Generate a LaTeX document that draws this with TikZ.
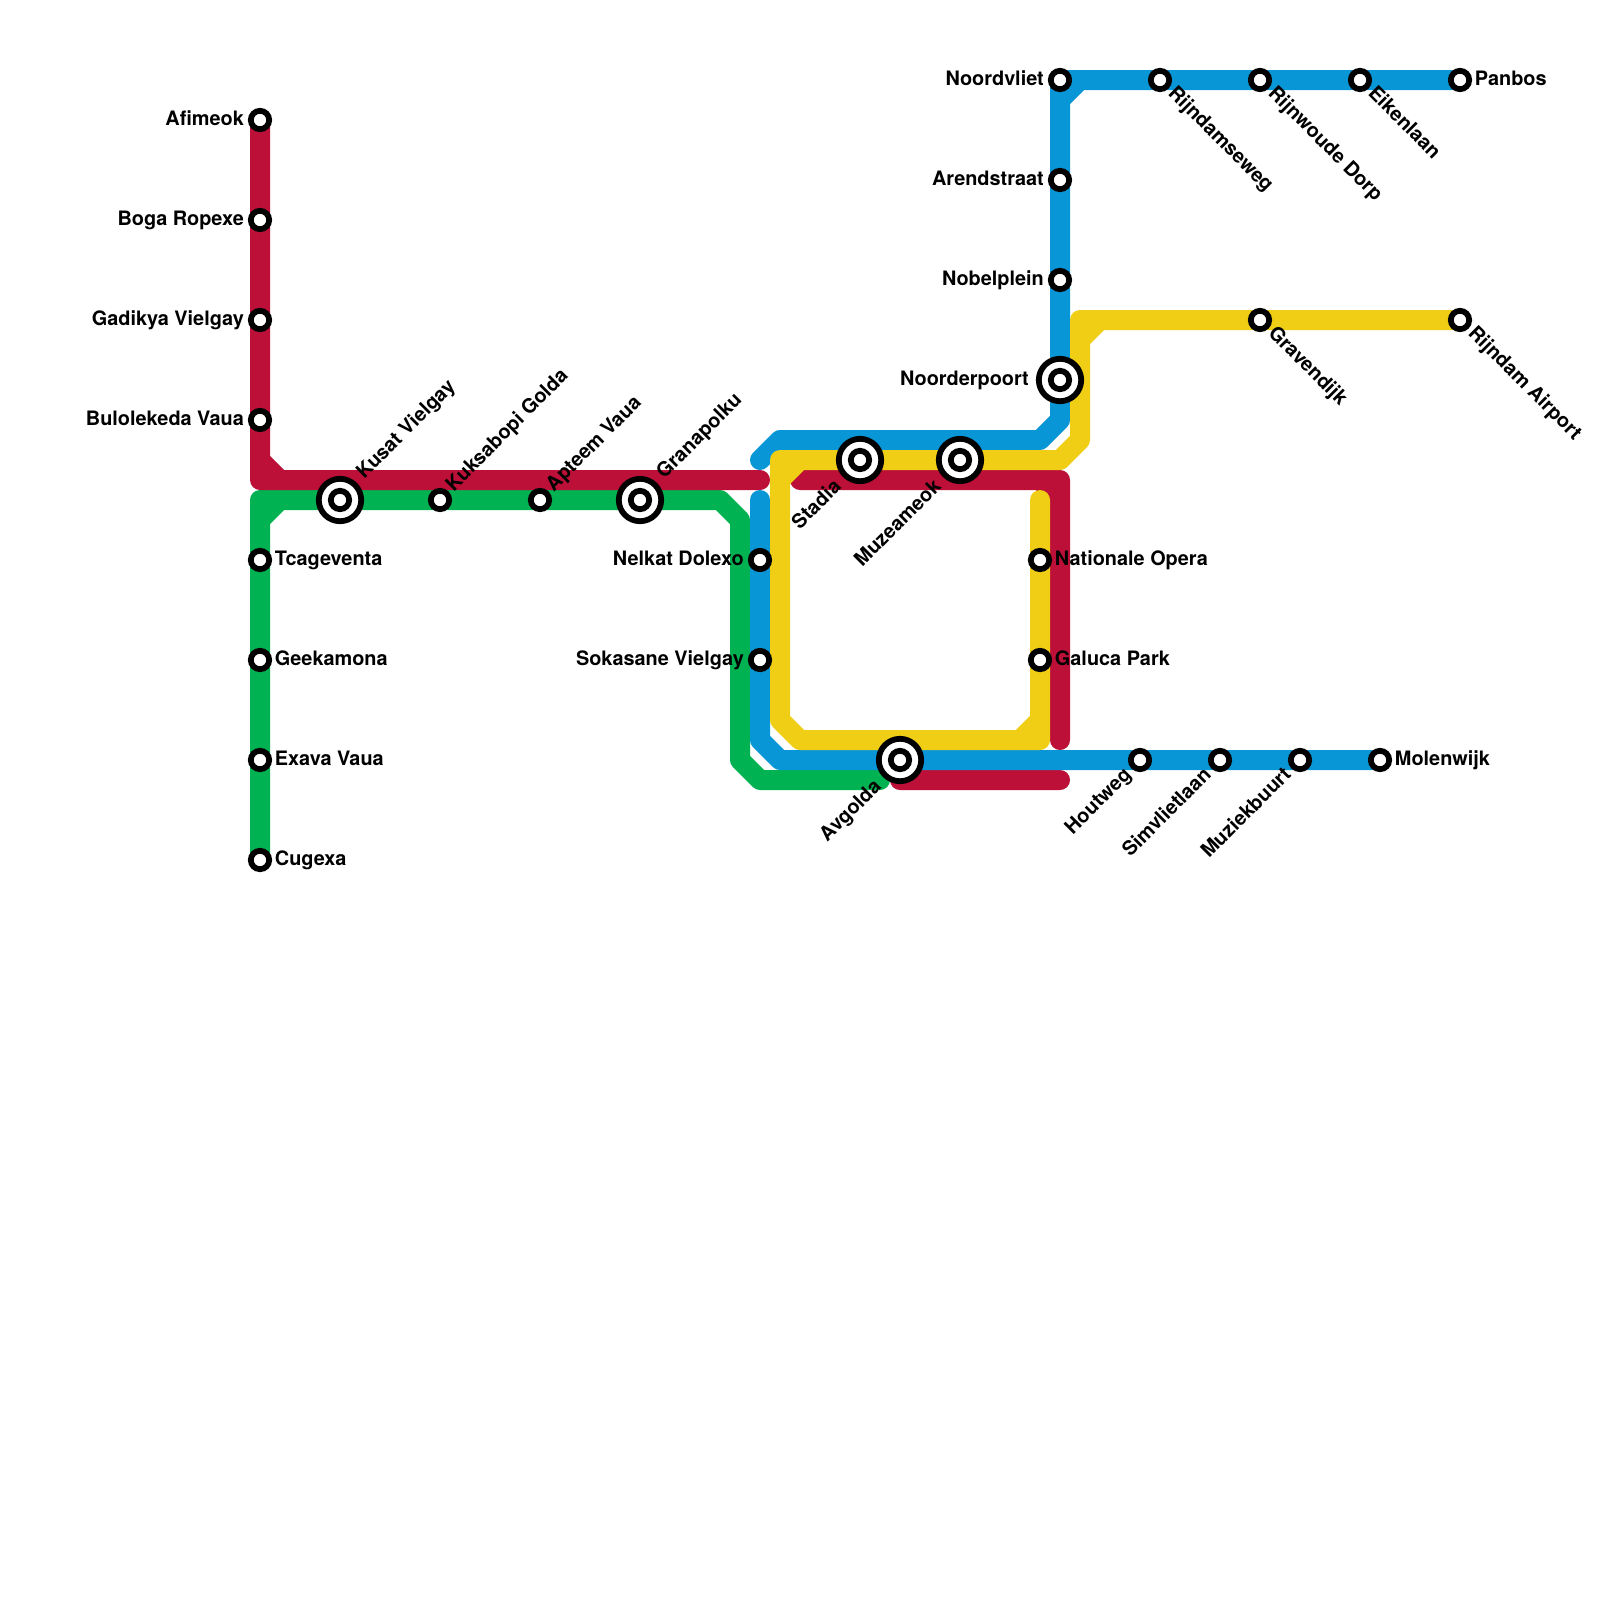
\documentclass[tikz,border=0pt]{standalone}
\usepackage{fontspec}
\setmainfont{TeX Gyre Heros}
\usetikzlibrary{backgrounds}
\definecolor{metrored}{HTML}{BD1038}
\definecolor{metrogreen}{HTML}{00B251}
\definecolor{metroblue}{HTML}{0896D7}
\definecolor{metroyellow}{HTML}{F0CE15}
\tikzset{
  metro/.style={
    line width=2.5mm,
    line cap=round,
    line join=round
  },
  stop/.style={
    circle,
    draw=black,
    fill=white,
    line width=0.72mm,
    minimum size=2.3mm,
    inner sep=0pt,
    outer sep=0pt
  },
  bigstop/.style={
    stop,
    minimum size=5.3mm
  },
  tag/.style={
    font=\fontsize{7.07}{8}\selectfont\bfseries,
    inner sep=0pt,
    text height=5pt,
    text depth=1.5pt
  },
  tagw/.style={tag, shift={(-0.78,0.05)}, anchor=east},
  tage/.style={tag, shift={(0.72,0.05)}, anchor=west},
  tagbigw/.style={tag, shift={(-1.53,0.05)}, anchor=east},
  tagne/.style={tag, shift={(0.5,-0.55)}, rotate=45, anchor=west},
  tagbigne/.style={tag, shift={(1.03,-1.18)}, rotate=45, anchor=west},
  tagse/.style={tag, shift={(0.52,0.52)}, rotate=-45, anchor=west},
  tagsw/.style={tag, shift={(-0.55,0.6)}, rotate=45, anchor=east},
  tagbigsw/.style={tag, shift={(-1.05,1.2)}, rotate=45, anchor=east}
}
\begin{document}
\begin{tikzpicture}[x=2.5mm, y=-2.5mm]
  \useasboundingbox (0,0) rectangle (80,80);

  % red stops
  \node[stop] (afimeok) at (13,6) {};
  \node[stop] (boga) at (13,11) {};
  \node[stop] (gadikya) at (13,16) {};
  \node[stop] (bulolekeda) at (13,21) {};
  \node[tagw] (afimeoktag) at (afimeok) {Afimeok};
  \node[tagw] (bogatag) at (boga) {Boga Ropexe};
  \node[tagw] (gadikyatag) at (gadikya) {Gadikya Vielgay};
  \node[tagw] (bulolekedatag) at (bulolekeda) {Bulolekeda Vaua};

  % green stops
  \node[bigstop] (kusat) at (17,25) {};
  \node[stop] (kusatin) at (kusat) {};
  \node[stop] (kuksabopi) at (22,25) {};
  \node[stop] (apteem) at (27,25) {};
  \node[bigstop] (granapolku) at (32,25) {};
  \node[stop] (granapolkuin) at (granapolku) {};
  \node[stop] (tcageventa) at (13,28) {};
  \node[stop] (geekamona) at (13,33) {};
  \node[stop] (exava) at (13,38) {};
  \node[stop] (cugexa) at (13,43) {};
  \node[tagbigne] (kusattag) at (kusat) {Kusat Vielgay};
  \node[tagne] (kuksabopitag) at (kuksabopi) {Kuksabopi Golda};
  \node[tagne] (apteemtag) at (apteem) {Apteem Vaua};
  \node[tagbigne] (granapolkutag) at (granapolku) {Granapolku};
  \node[tage] (tcageventatag) at (tcageventa) {Tcageventa};
  \node[tage] (geekamonatag) at (geekamona) {Geekamona};
  \node[tage] (exavatag) at (exava) {Exava Vaua};
  \node[tage] (cugexatag) at (cugexa) {Cugexa};

  % blue stops
  \node[stop] (nelkat) at (38,28) {};
  \node[stop] (sokasane) at (38,33) {};
  \node[bigstop] (avgolda) at (45,38) {};
  \node[stop] (avgoldain) at (avgolda) {};
  \node[stop] (houtweg) at (57,38) {};
  \node[stop] (simvlietlaan) at (61,38) {};
  \node[stop] (muziekbuurt) at (65,38) {};
  \node[stop] (molenwijk) at (69,38) {};
  \node[stop] (noordvliet) at (53,4) {};
  \node[stop] (arendstraat) at (53,9) {};
  \node[stop] (nobelplein) at (53,14) {};
  \node[bigstop] (noorderpoort) at (53,19) {};
  \node[stop] (noorderpoortin) at (noorderpoort) {};
  \node[stop] (rijndamseweg) at (58,4) {};
  \node[stop] (rijnwoude) at (63,4) {};
  \node[stop] (eikenlaan) at (68,4) {};
  \node[stop] (panbos) at (73,4) {};
  \node[tagw] (nelkattag) at (nelkat) {Nelkat Dolexo};
  \node[tagw] (sokasanetag) at (sokasane) {Sokasane Vielgay};
  \node[tagbigsw] (avgoldatag) at (avgolda) {Avgolda};
  \node[tagsw] (houtwegtag) at (houtweg) {Houtweg};
  \node[tagsw] (simvlietlaantag) at (simvlietlaan) {Simvlietlaan};
  \node[tagsw] (muziekbuurttag) at (muziekbuurt) {Muziekbuurt};
  \node[tage] (molenwijktag) at (molenwijk) {Molenwijk};
  \node[tagw] (noordvliettag) at (noordvliet) {Noordvliet};
  \node[tagw] (arendstraattag) at (arendstraat) {Arendstraat};
  \node[tagw] (nobelpleintag) at (nobelplein) {Nobelplein};
  \node[tagbigw] (noorderpoorttag) at (noorderpoort) {Noorderpoort};
  \node[tagse] (rijndamsewegtag) at (rijndamseweg) {Rijndamseweg};
  \node[tagse] (rijnwoudetag) at (rijnwoude) {Rijnwoude Dorp};
  \node[tagse] (eikenlaantag) at (eikenlaan) {Eikenlaan};
  \node[tage] (panbostag) at (panbos) {Panbos};

  % yellow stops
  \node[bigstop] (stadia) at (43,23) {};
  \node[stop] (stadiain) at (stadia) {};
  \node[bigstop] (muzeameok) at (48,23) {};
  \node[stop] (muzeameokin) at (muzeameok) {};
  \node[stop] (nationale) at (52,28) {};
  \node[stop] (galuca) at (52,33) {};
  \node[stop] (gravendijk) at (63,16) {};
  \node[stop] (airport) at (73,16) {};
  \node[tagbigsw] (stadiatag) at (stadia) {Stadia};
  \node[tagbigsw] (muzeameoktag) at (muzeameok) {Muzeameok};
  \node[tage] (nationaletag) at (nationale) {Nationale Opera};
  \node[tage] (galucatag) at (galuca) {Galuca Park};
  \node[tagse] (gravendijktag) at (gravendijk) {Gravendijk};
  \node[tagse] (airporttag) at (airport) {Rijndam Airport};

  % bends and line ends
  \coordinate (ra) at (13,24);
  \coordinate (rb) at (38,24);
  \coordinate (rc) at (13,23);
  \coordinate (rd) at (14,24);
  \coordinate (re) at (40,24);
  \coordinate (rf) at (53,24);
  \coordinate (rg) at (53,37);
  \coordinate (rh) at (52,24);
  \coordinate (ri) at (53,25);
  \coordinate (rj) at (45,39);
  \coordinate (rk) at (53,39);
  \coordinate (ga) at (13,25);
  \coordinate (gb) at (36,25);
  \coordinate (gc) at (37,26);
  \coordinate (gd) at (37,38);
  \coordinate (ge) at (38,39);
  \coordinate (gf) at (44,39);
  \coordinate (gg) at (13,26);
  \coordinate (gh) at (14,25);
  \coordinate (ba) at (38,25);
  \coordinate (bb) at (38,37);
  \coordinate (bc) at (39,38);
  \coordinate (bd) at (53,21);
  \coordinate (be) at (52,22);
  \coordinate (bf) at (39,22);
  \coordinate (bg) at (38,23);
  \coordinate (bh) at (53,5);
  \coordinate (bi) at (54,4);
  \coordinate (ya) at (52,25);
  \coordinate (yb) at (52,37);
  \coordinate (yc) at (40,37);
  \coordinate (yd) at (39,36);
  \coordinate (ye) at (39,23);
  \coordinate (yf) at (53,23);
  \coordinate (yg) at (54,22);
  \coordinate (yh) at (54,16);
  \coordinate (yi) at (52,36);
  \coordinate (yj) at (51,37);
  \coordinate (yk) at (39,24);
  \coordinate (yl) at (40,23);
  \coordinate (ym) at (54,17);
  \coordinate (yn) at (55,16);

  % lines go under the stops
  \begin{scope}[on background layer]
    \draw[metro, metrogreen] (cugexa.center) -- (ga) -- (gb) -- (gc) -- (gd) -- (ge) -- (gf)
      (gg) -- (gh);
    \draw[metro, metrored] (afimeok.center) -- (ra) -- (rb)
      (rc) -- (rd)
      (re) -- (rf) -- (rg)
      (rh) -- (ri)
      (rj) -- (rk);
    \draw[metro, metroblue] (ba) -- (bb) -- (bc) -- (molenwijk.center);
    \draw[metro, metroblue] (panbos.center) -- (noordvliet.center) -- (bd) -- (be) -- (bf) -- (bg)
      (bh) -- (bi);
    \draw[metro, metroyellow] (ya) -- (yb) -- (yc) -- (yd) -- (ye) -- (yf) -- (yg) -- (yh) -- (airport.center)
      (yi) -- (yj)
      (yk) -- (yl)
      (ym) -- (yn);
  \end{scope}
\end{tikzpicture}
\end{document}
